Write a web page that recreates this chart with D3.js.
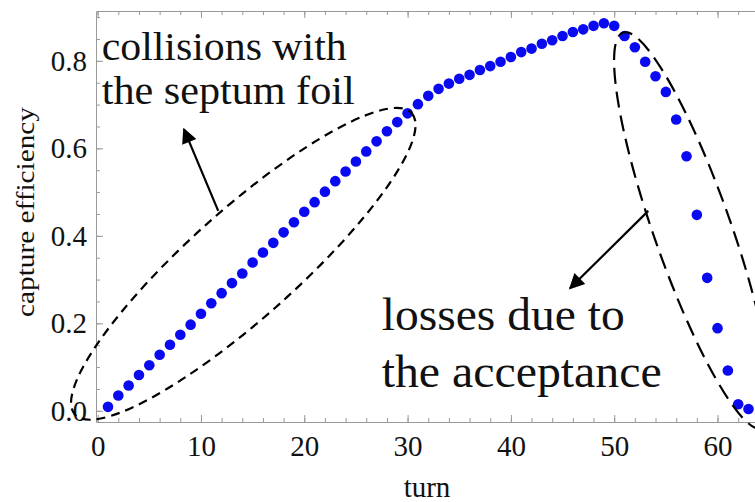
<!DOCTYPE html>
<html>
<head>
<meta charset="utf-8">
<script src="https://cdn.jsdelivr.net/npm/d3@7"></script>
<style>
  body { margin: 0; background: #fff; }
  svg text { font-family: "Liberation Serif", "Times New Roman", serif; fill: #111; }
</style>
</head>
<body>
<div id="chart"></div>
<script>
'use strict';

// capture efficiency per turn
const turns = d3.range(1, 64);
const efficiency = [
    0.009, 0.035, 0.058, 0.082, 0.104, 0.128, 0.151, 0.174, 0.197, 0.222,
    0.246, 0.269, 0.292, 0.314, 0.339, 0.362, 0.384, 0.408, 0.431, 0.455,
    0.477, 0.501, 0.525, 0.547, 0.570, 0.593, 0.616, 0.639, 0.660, 0.680,
    0.701, 0.720, 0.736, 0.748, 0.759, 0.768, 0.779, 0.788, 0.798, 0.809,
    0.820, 0.828, 0.839, 0.847, 0.857, 0.866, 0.872, 0.880, 0.886, 0.880,
    0.857, 0.831, 0.798, 0.765, 0.729, 0.666, 0.582, 0.448, 0.304, 0.189,
    0.092, 0.015, 0.004
];

const xTicks = [0, 10, 20, 30, 40, 50, 60];
const yTicks = [0.0, 0.2, 0.4, 0.6, 0.8];
const xMinor = d3.range(0, 66, 2);
const yMinor = d3.range(0, 0.91, 0.05);

const width = 755, height = 502;
const frame = {left: 96, top: 11, bottom: 422, right: 764};

let svg = d3.select("#chart").append("svg")
    .attr("width", width)
    .attr("height", height);

let x = d3.scaleLinear().domain([-0.16, 64.5]).range([frame.left, frame.right]);
let y = d3.scaleLinear().domain([-0.0256, 0.914]).range([frame.bottom, frame.top]);

// frame with inward ticks (minor first, then major with labels)
function styleAxis(g) {
    g.attr("font-family", null);
    g.selectAll("path, line").attr("stroke", "#999").attr("stroke-width", 1);
    g.selectAll("text").attr("font-size", 29).attr("fill", "#111");
}

svg.append("g").attr("transform", "translate(0," + frame.bottom + ")")
    .call(d3.axisBottom(x).tickValues(xMinor).tickSize(-4).tickSizeOuter(0).tickFormat(""))
    .call(styleAxis);
svg.append("g").attr("transform", "translate(0," + frame.bottom + ")")
    .call(d3.axisBottom(x).tickValues(xTicks).tickSize(-7).tickSizeOuter(0).tickPadding(13).tickFormat(d3.format("d")))
    .call(styleAxis)
    .call(g => g.select(".domain").remove());

svg.append("g").attr("transform", "translate(0," + frame.top + ")")
    .call(d3.axisTop(x).tickValues(xMinor).tickSize(-4).tickSizeOuter(0).tickFormat(""))
    .call(styleAxis);
svg.append("g").attr("transform", "translate(0," + frame.top + ")")
    .call(d3.axisTop(x).tickValues(xTicks).tickSize(-7).tickSizeOuter(0).tickFormat(""))
    .call(styleAxis)
    .call(g => g.select(".domain").remove());

svg.append("g").attr("transform", "translate(" + frame.left + ",0)")
    .call(d3.axisLeft(y).tickValues(yMinor).tickSize(-4).tickSizeOuter(0).tickFormat(""))
    .call(styleAxis);
svg.append("g").attr("transform", "translate(" + frame.left + ",0)")
    .call(d3.axisLeft(y).tickValues(yTicks).tickSize(-7).tickSizeOuter(0).tickPadding(9).tickFormat(d3.format(".1f")))
    .call(styleAxis)
    .call(g => g.select(".domain").remove());

// axis titles
svg.append("text")
    .attr("x", 427).attr("y", 497)
    .attr("text-anchor", "middle")
    .attr("font-size", 29)
    .text("turn");

svg.append("text")
    .attr("transform", "translate(33.5,212) rotate(-90)")
    .attr("text-anchor", "middle")
    .attr("font-size", 26)
    .attr("textLength", 210)
    .attr("lengthAdjust", "spacingAndGlyphs")
    .text("capture efficiency");

// points
svg.append("g").selectAll("circle")
    .data(turns.map((t, i) => ({turn: t, value: efficiency[i]})))
    .enter().append("circle")
    .attr("cx", d => x(d.turn))
    .attr("cy", d => y(d.value))
    .attr("r", 5.3)
    .attr("fill", "#0a0af0");

// annotations: dashed ellipses, arrows, text
let defs = svg.append("defs");
defs.append("marker")
    .attr("id", "head")
    .attr("viewBox", "0 0 10 10")
    .attr("refX", 9).attr("refY", 5)
    .attr("markerWidth", 8).attr("markerHeight", 7)
    .attr("markerUnits", "strokeWidth")
    .attr("orient", "auto")
    .append("path")
    .attr("d", "M0,0 L10,5 L0,10 Z")
    .attr("fill", "#000");

const ellipses = [
    {turn: 14.1, value: 0.336, rx: 226, ry: 54, angle: -41.8, dash: "9,6"},
    {turn: 57.6, value: 0.412, rx: 210, ry: 38.5, angle: 70.6, dash: "16,8"}
];
svg.append("g").selectAll("ellipse")
    .data(ellipses)
    .enter().append("ellipse")
    .attr("transform", d => "translate(" + x(d.turn) + "," + y(d.value) + ") rotate(" + d.angle + ")")
    .attr("rx", d => d.rx)
    .attr("ry", d => d.ry)
    .attr("fill", "none")
    .attr("stroke", "#000")
    .attr("stroke-width", 2.2)
    .attr("stroke-dasharray", d => d.dash);

const arrows = [
    {from: [11.67, 0.457], to: [8.35, 0.644]},
    {from: [53.3, 0.457], to: [45.72, 0.28]}
];
svg.append("g").selectAll("line")
    .data(arrows)
    .enter().append("line")
    .attr("x1", d => x(d.from[0])).attr("y1", d => y(d.from[1]))
    .attr("x2", d => x(d.to[0])).attr("y2", d => y(d.to[1]))
    .attr("stroke", "#000")
    .attr("stroke-width", 2.2)
    .attr("marker-end", "url(#head)");

const notes = [
    {text: "collisions with", x: 101.7, y: 60, size: 40, len: 245},
    {text: "the septum foil", x: 101.7, y: 104, size: 40, len: 253},
    {text: "losses due to", x: 381.7, y: 330, size: 46, len: 243},
    {text: "the acceptance", x: 381.7, y: 386.7, size: 46, len: 280}
];
svg.append("g").selectAll("text")
    .data(notes)
    .enter().append("text")
    .attr("x", d => d.x).attr("y", d => d.y)
    .attr("font-size", d => d.size)
    .attr("textLength", d => d.len)
    .attr("lengthAdjust", "spacingAndGlyphs")
    .attr("fill", "#000")
    .text(d => d.text);
</script>
</body>
</html>
